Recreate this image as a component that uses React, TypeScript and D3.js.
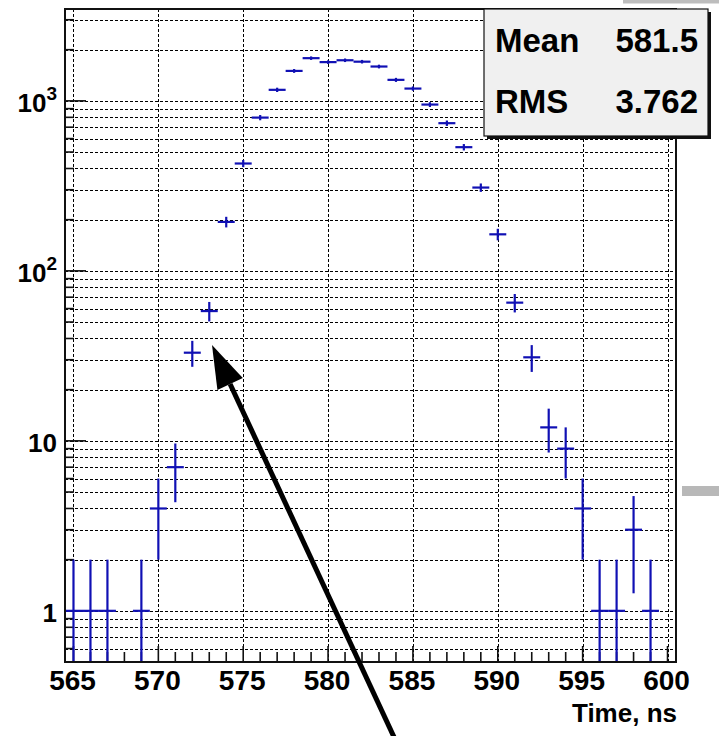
import React from 'react';
import * as d3 from 'd3';

// ---- data ----
const bins: number[] = [565, 566, 567, 568, 569, 570, 571, 572, 573, 574, 575, 576, 577, 578, 579, 580, 581, 582, 583, 584, 585, 586, 587, 588, 589, 590, 591, 592, 593, 594, 595, 596, 597, 598, 599, 600];
const counts: number[] = [1, 1, 1, 0, 1, 4, 7, 33, 58, 194, 428, 797, 1161, 1500, 1783, 1690, 1733, 1700, 1592, 1329, 1181, 951, 739, 534, 309, 164, 65, 31, 12, 9, 4, 1, 1, 3, 1, 0];
const xTickValues: number[] = [565, 570, 575, 580, 585, 590, 595, 600];
const yMajorTicks: number[] = [1, 10, 100, 1000];
const yTickBase: string[] = ['1', '10', '10', '10'];
const yTickExp: string[] = ['', '', '2', '3'];
const statsLabels: string[] = ['Mean', 'RMS'];
const statsValues: string[] = ['581.5', '3.762'];
const xAxisTitle = 'Time, ns';

const W = 719;
const H = 736;
const L = 65, R = 676, T = 9, B = 662;
const FONT = '"Liberation Sans", Arial, Helvetica, sans-serif';
const BLUE = '#1010b4';

export default function App() {
  const x = d3.scaleLinear().domain([564.5, 600.5]).range([L, R]);
  const y = d3.scaleLog().domain([0.5, 3470]).range([B, T]);

  // minor y grid values
  const yGrid: number[] = [];
  for (let d = -1; d <= 3; d++) {
    for (let k = 1; k <= 9; k++) {
      const v = k * Math.pow(10, d);
      if (v > 0.5 && v < 3470) yGrid.push(v);
    }
  }
  const xMinor = d3.range(565, 601, 1);
  const r5 = (v: number) => Math.round(v) + 0.5;

  const arrowTip = [212, 345];
  const arrowTail = [400, 750];
  const dx = arrowTail[0] - arrowTip[0], dy = arrowTail[1] - arrowTip[1];
  const len = Math.hypot(dx, dy);
  const ux = dx / len, uy = dy / len;
  const headL = 43, headW = 14;
  const bx = arrowTip[0] + ux * headL, by = arrowTip[1] + uy * headL;
  const px = -uy, py = ux;

  return (
    <svg width={W} height={H} style={{ position: 'absolute', left: 0, top: 0, display: 'block', background: '#fff' }}>
      <defs>
        <clipPath id="frameClip">
          <rect x={L} y={T} width={R - L} height={B - T} />
        </clipPath>
      </defs>
      <rect x={0} y={0} width={W} height={H} fill="#fff" />
      {/* gray bars from screenshot */}
      <rect x={623} y={0} width={96} height={3.5} fill="#bdbdbd" />
      <rect x={682} y={486} width={37} height={10} fill="#b8b8b8" />

      {/* grid */}
      <g stroke="#000" strokeWidth={1} strokeDasharray="3,2" fill="none" shapeRendering="crispEdges">
        {yGrid.map((v, i) => (
          <line key={'gy' + i} x1={L} x2={R} y1={r5(y(v))} y2={r5(y(v))} />
        ))}
        {xTickValues.map((v, i) => (
          <line key={'gx' + i} x1={r5(x(v))} x2={r5(x(v))} y1={T} y2={B} />
        ))}
      </g>

      {/* ticks */}
      <g stroke="#111" strokeWidth={1.6}>
        {yGrid.map((v, i) => {
          const major = yMajorTicks.includes(v);
          return <line key={'ty' + i} x1={L} x2={L + (major ? 21 : 9)} y1={y(v)} y2={y(v)} />;
        })}
        {xMinor.map((v, i) => {
          const major = xTickValues.includes(v);
          return <line key={'tx' + i} x1={x(v)} x2={x(v)} y1={B} y2={B - (major ? 16 : 10)} />;
        })}
      </g>

      {/* data */}
      <g clipPath="url(#frameClip)" stroke={BLUE} strokeWidth={2.2} fill="none">
        {bins.map((b, i) => {
          const c = counts[i];
          if (c <= 0) return null;
          const e = Math.sqrt(c);
          const lo = c - e;
          const yLo = lo > 0.5 ? y(lo) : B + 2;
          return (
            <g key={'d' + i}>
              <line x1={x(b - 0.5)} x2={x(b + 0.5)} y1={y(c)} y2={y(c)} />
              <line x1={x(b)} x2={x(b)} y1={y(c + e)} y2={yLo} />
            </g>
          );
        })}
      </g>

      {/* frame */}
      <rect x={L} y={T} width={R - L} height={B - T} fill="none" stroke="#111" strokeWidth={2} />

      {/* labels */}
      <g fontFamily={FONT} fontWeight="bold" fill="#000">
        {yMajorTicks.map((v, i) => (
          <text key={'yl' + i} x={57} y={y(v) + 11} fontSize={26} textAnchor="end">
            {yTickBase[i]}
            {yTickExp[i] ? (
              <tspan dy={-12} fontSize={19}>{yTickExp[i]}</tspan>
            ) : null}
          </text>
        ))}
        {xTickValues.map((v, i) => (
          <text key={'xl' + i} x={x(v) - 1} y={690} fontSize={28} textAnchor="middle">
            {String(v)}
          </text>
        ))}
        <text x={677} y={722} fontSize={26} textAnchor="end">{xAxisTitle}</text>
      </g>

      {/* stats box */}
      <rect x={487} y={12} width={224} height={127} fill="#111" />
      <rect x={484} y={9} width={224} height={127} fill="#f0f0f0" stroke="#111" strokeWidth={1.2} />
      <g fontFamily={FONT} fontWeight="bold" fill="#000" fontSize={33}>
        {statsLabels.map((s, i) => (
          <text key={'sl' + i} x={495} y={52 + i * 61}>{s}</text>
        ))}
        {statsValues.map((s, i) => (
          <text key={'sv' + i} x={698} y={52 + i * 61} textAnchor="end">{s}</text>
        ))}
      </g>

      {/* arrow */}
      <line x1={bx} y1={by} x2={arrowTail[0]} y2={arrowTail[1]} stroke="#000" strokeWidth={5} />
      <polygon
        points={`${arrowTip[0]},${arrowTip[1]} ${bx + px * headW},${by + py * headW} ${bx - px * headW},${by - py * headW}`}
        fill="#000"
      />
    </svg>
  );
}
